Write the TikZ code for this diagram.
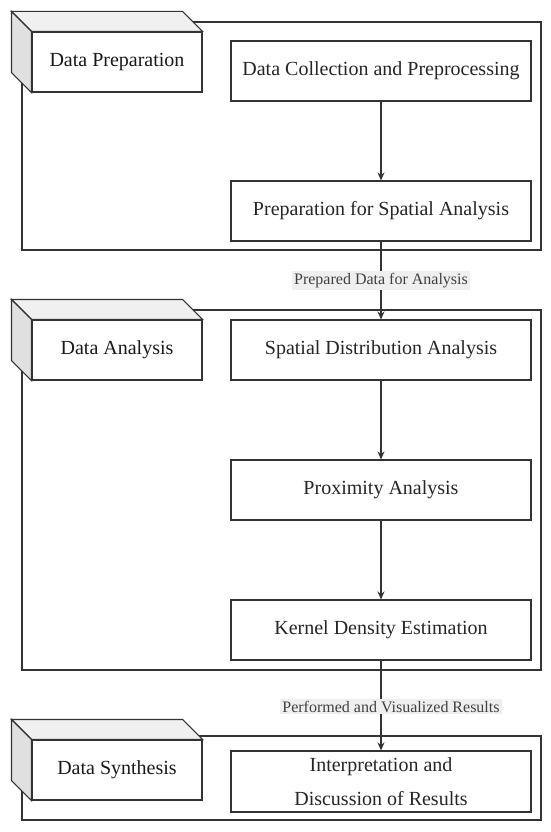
\documentclass[tikz,border=0pt]{standalone}
\usepackage{fontspec}
\setmainfont{Liberation Serif}
\usetikzlibrary{arrows.meta}
\definecolor{linegray}{HTML}{333333}
\definecolor{topgray}{HTML}{F0F0F0}
\definecolor{sidegray}{HTML}{E0E0E0}
\definecolor{lblgray}{HTML}{EFEFEF}
\tikzset{
  step box/.style={draw=linegray, line width=1.1pt, fill=white, minimum width=300pt, minimum height=60pt, font=\fontsize{20}{34}\selectfont, align=center, text=black!85},
  pkg box/.style={draw=linegray, line width=1.1pt, fill=white, minimum width=170pt, minimum height=60pt, font=\fontsize{20}{22}\selectfont, text=black!90},
  frame/.style={draw=linegray, line width=1.1pt},
  flow/.style={draw=linegray, line width=1.1pt, -{Stealth[length=8pt,width=7pt]}},
  flow label/.style={fill=lblgray, font=\fontsize{16}{18}\selectfont, text=black!75, inner sep=2pt}
}
% 3D block: top face and side face behind a front node
\newcommand{\pkgdepth}[1]{%
  \draw[frame, fill=topgray] (#1.north west) -- ++(-20,-20) -- ([shift={(-20,-20)}]#1.north east) -- (#1.north east) -- cycle;
  \draw[frame, fill=sidegray] (#1.north west) -- ++(-20,-20) -- ([shift={(-20,-20)}]#1.south west) -- (#1.south west) -- cycle;
}
\begin{document}
\begin{tikzpicture}[x=1pt,y=-1pt]
\useasboundingbox (0,0) rectangle (550,832);

% package frames
\draw[frame] (22,22) rectangle (541,250);
\draw[frame] (22,310) rectangle (541,670);
\draw[frame] (22,736) rectangle (541,820);

% package blocks
\node[pkg box] (prep) at (117,62) {Data Preparation};
\pkgdepth{prep}
\node[pkg box] (analysis) at (117,350) {Data Analysis};
\pkgdepth{analysis}
\node[pkg box] (synth) at (117,770) {Data Synthesis};
\pkgdepth{synth}

% steps
\node[step box] (collect) at (381,71) {Data Collection and Preprocessing};
\node[step box] (spatialprep) at (381,211) {Preparation for Spatial Analysis};
\node[step box] (distrib) at (381,350) {Spatial Distribution Analysis};
\node[step box] (proximity) at (381,490) {Proximity Analysis};
\node[step box] (kde) at (381,630) {Kernel Density Estimation};
\node[step box, minimum height=61pt] (interp) at (381,781.5) {Interpretation and\\Discussion of Results};

% flow
\draw[flow] (collect) -- (spatialprep);
\draw[flow] (spatialprep) -- node[flow label] {Prepared Data for Analysis} (distrib);
\draw[flow] (distrib) -- (proximity);
\draw[flow] (proximity) -- (kde);
\draw[flow] (kde) -- node[flow label, xshift=10pt, yshift=-1pt] {Performed and Visualized Results} (interp);
\end{tikzpicture}
\end{document}
